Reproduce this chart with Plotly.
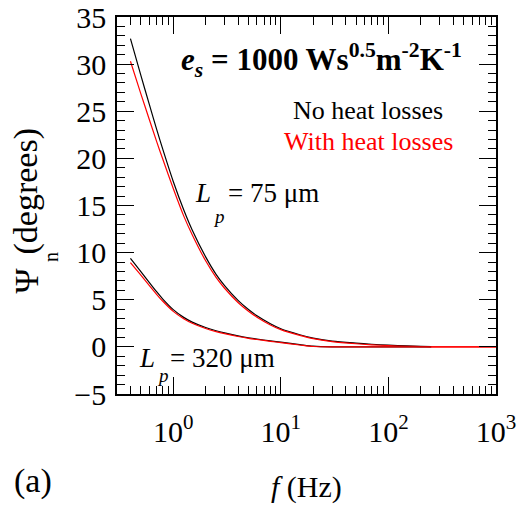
import plotly.graph_objects as go

# ---- data ----
freq = [0.4, 0.5, 0.6, 0.7, 0.8, 1, 1.25, 1.5, 2, 2.5, 3, 4, 5, 6, 8, 10, 15, 20, 30, 50, 70, 100, 150, 200, 250, 300, 500, 1000]

psi_75_no_loss = [32.7, 28.8, 25.7, 23.1, 20.95, 17.55, 14.55, 12.4, 9.55, 7.7, 6.5, 4.93, 3.96, 3.3, 2.45, 1.92, 1.29, 0.93, 0.62, 0.4, 0.28, 0.18, 0.1, 0.06, 0.04, None, None, None]
psi_75_loss = [30.3, 26.85, 24.1, 21.8, 19.9, 16.8, 13.9, 11.9, 9.13, 7.37, 6.22, 4.71, 3.78, 3.15, 2.33, 1.83, 1.22, 0.87, 0.56, 0.33, 0.22, 0.13, 0.06, 0.03, 0.01, 0.0, 0.0, 0.0]

psi_320_no_loss = [9.4, 7.99, 6.82, 5.85, 5.07, 3.95, 3.13, 2.63, 2.05, 1.71, 1.48, 1.17, 0.97, 0.83, 0.64, 0.5, 0.24, 0.07, 0.0, 0.0, 0.0, 0.0, 0.0, 0.0, 0.0, None, None, None]
psi_320_loss = [8.94, 7.61, 6.5, 5.58, 4.84, 3.77, 2.99, 2.51, 1.95, 1.62, 1.40, 1.10, 0.91, 0.78, 0.59, 0.45, 0.2, 0.04, 0.0, 0.0, 0.0, 0.0, 0.0, 0.0, 0.0, 0.0, 0.0, 0.0]

x_tick_vals = [1, 10, 100, 1000]
x_tick_text = ["10<sup>0</sup>", "10<sup>1</sup>", "10<sup>2</sup>", "10<sup>3</sup>"]
x_minor_vals = [m * 10 ** d for d in range(-1, 3) for m in range(2, 10) if 0.3 <= m * 10 ** d <= 1000]

FONT = "Liberation Serif, Times New Roman, serif"

# plot-area geometry (pixels)
L, R, T, B = 117, 496, 17, 394
W, H = 520, 511

fig = go.Figure()
series = [
    (psi_75_no_loss, "black"),
    (psi_75_loss, "red"),
    (psi_320_no_loss, "black"),
    (psi_320_loss, "red"),
]
for ys, col in series:
    fig.add_trace(go.Scatter(x=freq, y=ys, mode="lines",
                             line=dict(color=col, width=1.2, shape="spline", smoothing=0.8),
                             connectgaps=False, showlegend=False))

axis_common = dict(
    showline=True, linecolor="black", linewidth=1.5, mirror="allticks",
    ticks="inside", ticklen=17, tickwidth=1.2, tickcolor="black",
    showgrid=False, zeroline=False, automargin=False,
    tickfont=dict(family=FONT, size=30, color="black"),
)

fig.update_xaxes(type="log", range=[-0.5229, 3],
                 tickvals=x_tick_vals, ticktext=x_tick_text,
                 minor=dict(ticks="inside", ticklen=8, tickwidth=1.2,
                            tickcolor="black", tickvals=x_minor_vals, showgrid=False),
                 ticklabelstandoff=10,
                 **axis_common)
fig.update_yaxes(range=[-5, 35], dtick=5, tick0=0,
                 minor=dict(ticks="inside", ticklen=8, tickwidth=1.2,
                            tickcolor="black", dtick=1, showgrid=False),
                 ticklabelstandoff=3,
                 **axis_common)


def px_x(p):
    return (p - L) / (R - L)


def px_y(p):
    return (B - p) / (B - T)


def ann(text, px, py, size, color="black", xanchor="center", yanchor="middle", angle=0):
    fig.add_annotation(text=text, x=px_x(px), y=px_y(py), xref="paper", yref="paper",
                       xanchor=xanchor, yanchor=yanchor, showarrow=False,
                       textangle=angle,
                       font=dict(family=FONT, size=size, color=color))


ann("<b><i>e<sub>s</sub></i> = 1000 Ws<sup>0.5</sup>m<sup>-2</sup>K<sup>-1</sup></b>", 321, 60, 31)
ann("No heat losses", 368, 110, 26)
ann("With heat losses", 368, 141, 26, color="red")

# L_p = 75 um
ann("<i>L</i>", 213, 193, 27, xanchor="right")
ann("<i>p</i>", 219, 216, 19)
ann("= 75 μm", 226, 193, 27, xanchor="left")
# L_p = 320 um
ann("<i>L</i>", 157, 358, 27, xanchor="right")
ann("<i>p</i>", 163, 375, 19)
ann("= 320 μm", 168, 358, 27, xanchor="left")

ann("(a)", 33, 481, 34)
ann("<i>f</i> (Hz)", 306, 487, 30)

# y-axis title
ann("Ψ", 25.5, 281, 34, angle=-90)
ann("n", 51, 257, 20, angle=-90)
ann("(degrees)", 25.5, 192, 34, angle=-90)

fig.update_layout(
    width=W, height=H,
    margin=dict(l=L, r=W - R, t=T, b=H - B, pad=0),
    paper_bgcolor="white", plot_bgcolor="white",
    font=dict(family=FONT, color="black"),
)

fig.write_html("out.html", config={"displayModeBar": False},
               post_script="document.body.style.margin='0';")
